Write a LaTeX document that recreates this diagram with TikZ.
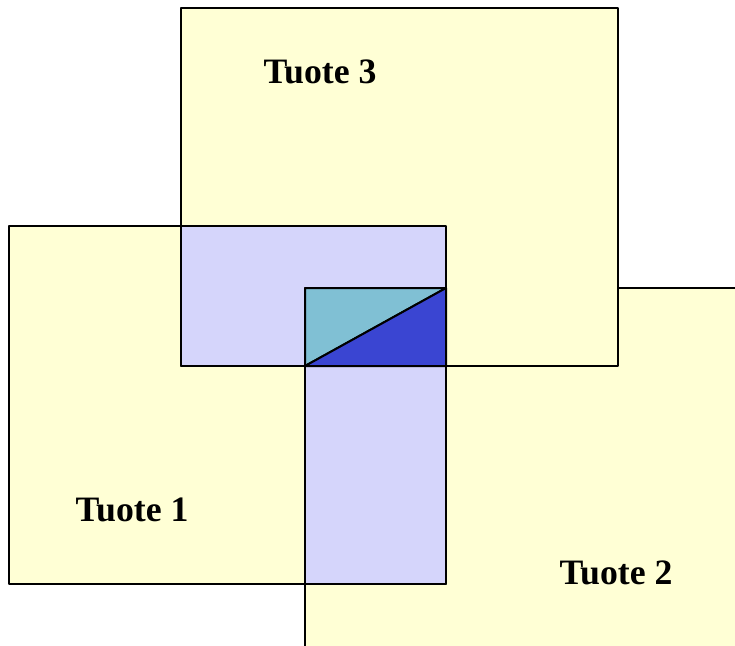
\documentclass[tikz,border=0pt]{standalone}
\usepackage{fontspec}
\setmainfont{Liberation Serif}
\definecolor{tuoteyellow}{HTML}{FFFFD5}
\definecolor{overlaplav}{HTML}{D5D5FB}
\definecolor{tripleteal}{HTML}{80C0D4}
\definecolor{tripleblue}{HTML}{3A45D2}
\begin{document}
\begin{tikzpicture}[x=0.03cm, y=-0.03cm, line width=1.7pt, line join=round,
		tuotebox/.style={draw, fill=tuoteyellow},
		overlapbox/.style={draw, fill=overlaplav},
		tuotelabel/.style={font=\fontsize{30.5}{36}\selectfont\bfseries}]
		\clip (0,0) rectangle (735,645);

		% Product areas
		\draw[tuotebox] (305,288) rectangle (770,690);
		\draw[tuotebox] (9,226) rectangle (446,584);
		\draw[tuotebox] (181,8) rectangle (618,366);

		% Pairwise overlaps
		\draw[overlapbox] (181,226) rectangle (446,366);
		\draw[overlapbox] (305,288) rectangle (446,584);

		% Common part of all three
		\draw[fill=tripleteal] (305,288) -- (446,288) -- (305,366) -- cycle;
		\draw[fill=tripleblue] (446,288) -- (446,366) -- (305,366) -- cycle;

		% Labels
		\node[tuotelabel] (t3) at (320,72) {Tuote 3};
		\node[tuotelabel] (t1) at (132,510) {Tuote 1};
		\node[tuotelabel] (t2) at (616,573) {Tuote 2};
	\end{tikzpicture}
\end{document}
